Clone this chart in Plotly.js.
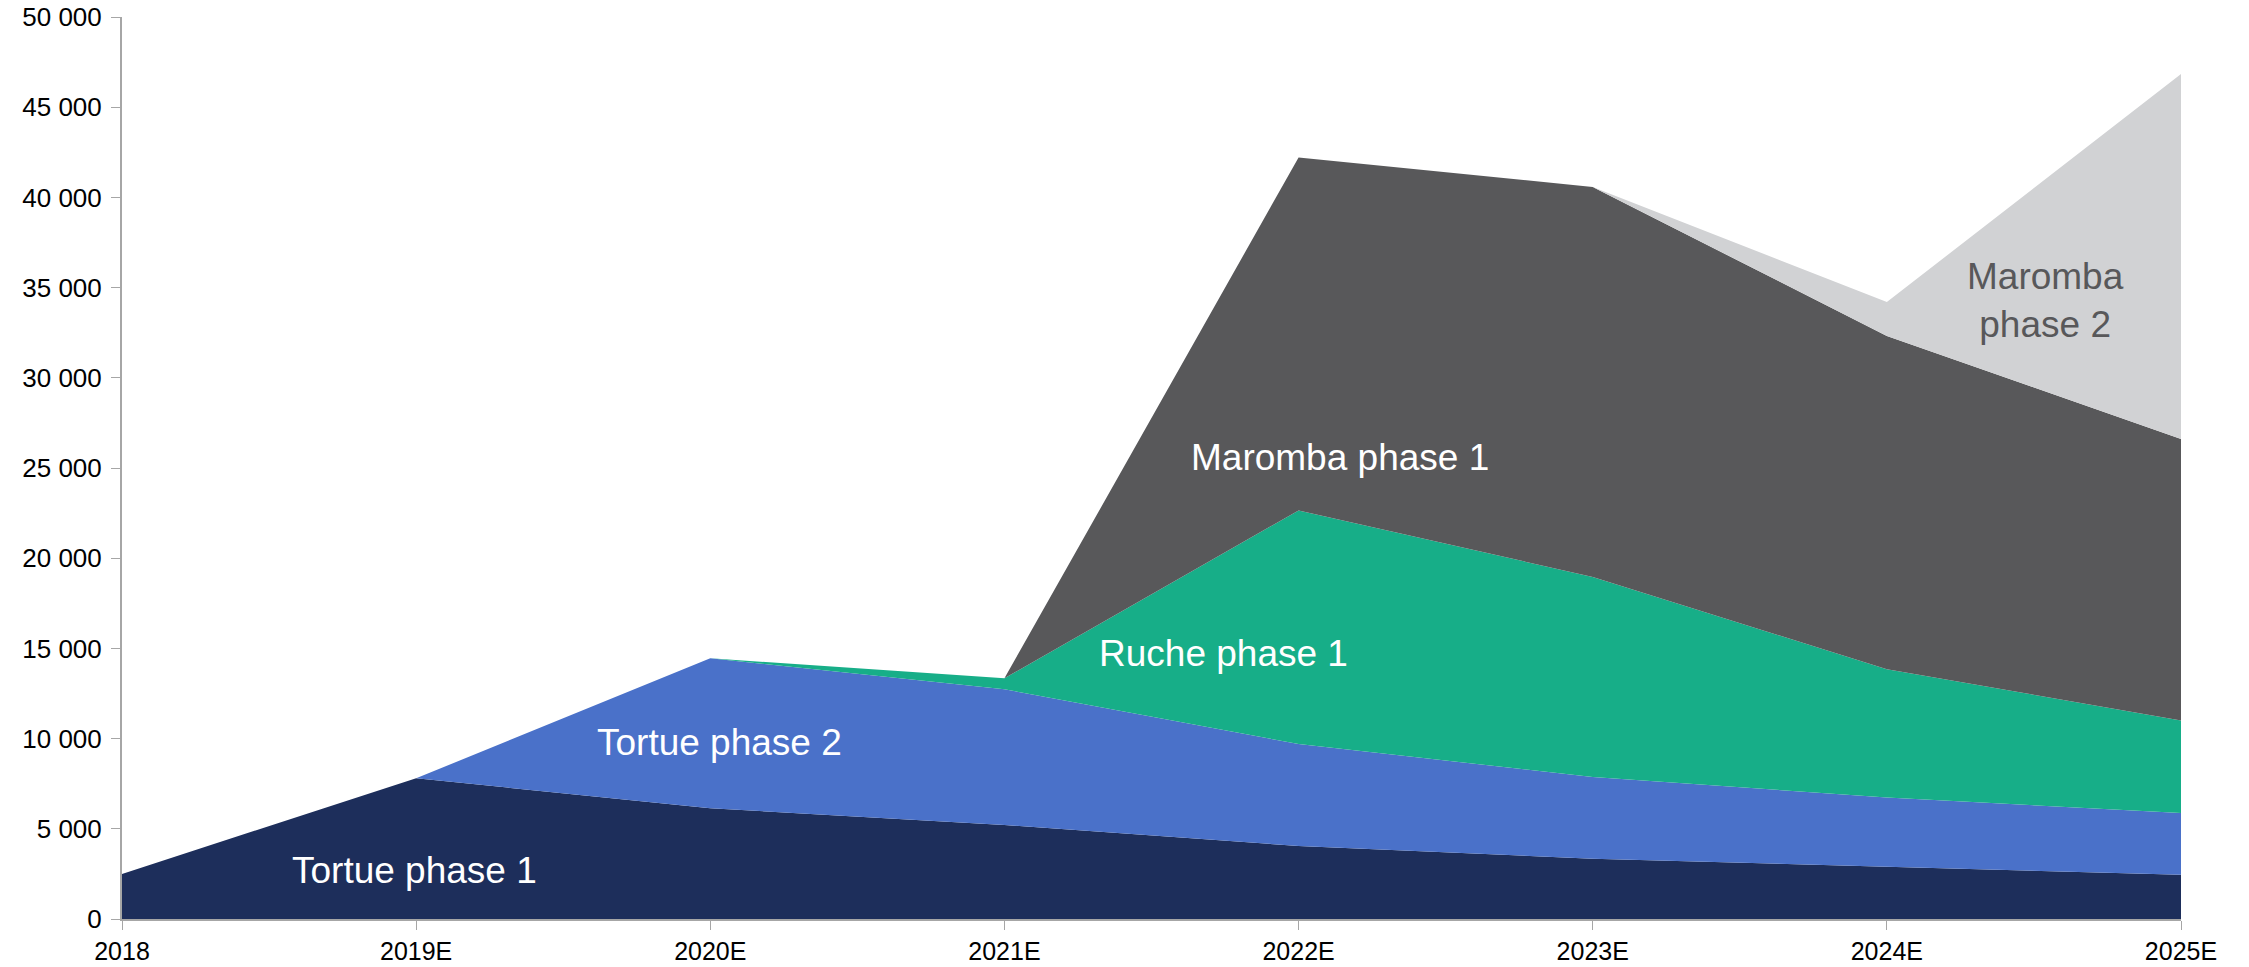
<!DOCTYPE html>
<html>
<head>
<meta charset="utf-8">
<script src="https://cdn.plot.ly/plotly-3.0.1.min.js"></script>
<style>
  html, body { margin: 0; padding: 0; background: #fff; }
  #chart { width: 2249px; height: 967px; }
</style>
</head>
<body>
<div id="chart"></div>
<script>
/* -------------------- DATA -------------------- */

const years = ['2018', '2019E', '2020E', '2021E', '2022E', '2023E', '2024E', '2025E'];

const tortue1  = [2500, 7800, 6140, 5210, 4050, 3340, 2900, 2450];
const tortue2  = [0, 0, 8310, 7520, 5650, 4530, 3830, 3420];
const ruche1   = [0, 0, 0, 610, 12950, 11090, 7120, 5130];
const maromba1 = [0, 0, 0, 0, 19560, 21620, 18470, 15610];
const maromba2 = [0, 0, 0, 0, 0, 0, 1880, 20230];

const seriesNames  = ['Tortue phase 1', 'Tortue phase 2', 'Ruche phase 1', 'Maromba phase 1', 'Maromba phase 2'];
const seriesColors = ['#1D2E5B', '#4A71C9', '#17AE88', '#58585A', '#D1D2D4'];

const yTicks = [0, 5000, 10000, 15000, 20000, 25000, 30000, 35000, 40000, 45000, 50000];

/* -------------------- LABELS -------------------- */

// in-chart labels: x is category index, y in data units
const labels = [
  { text: 'Tortue phase 1', x: 0.995, y: 2700, color: '#FFFFFF' },
  { text: 'Tortue phase 2', x: 2.03, y: 9800, color: '#FFFFFF' },
  { text: 'Ruche phase 1', x: 3.745, y: 14700, color: '#FFFFFF' },
  { text: 'Maromba phase 1', x: 4.14, y: 25600, color: '#FFFFFF' },
  { text: 'Maromba<br>phase 2', x: 6.54, y: 34300, color: '#58585A' }
];

/* -------------------- PLOT -------------------- */

const FONT = 'Liberation Sans, Arial, sans-serif';

const values = [tortue1, tortue2, ruche1, maromba1, maromba2];

const traces = values.map((v, i) => ({
  x: years,
  y: v,
  name: seriesNames[i],
  type: 'scatter',
  mode: 'lines',
  stackgroup: 'one',
  line: { width: 0, color: seriesColors[i] },
  fillcolor: seriesColors[i],
  hoverinfo: 'skip'
}));

const annotations = labels.map(l => ({
  text: l.text,
  x: l.x,
  y: l.y,
  xref: 'x',
  yref: 'y',
  showarrow: false,
  font: { family: FONT, size: 37, color: l.color }
}));

const layout = {
  width: 2249,
  height: 967,
  margin: { l: 122, r: 68, t: 17, b: 48 },
  paper_bgcolor: '#FFFFFF',
  plot_bgcolor: '#FFFFFF',
  showlegend: false,
  separators: '. ',
  font: { family: FONT, size: 25, color: '#000000' },
  xaxis: {
    type: 'category',
    range: [0, 7],
    showgrid: false,
    zeroline: false,
    showline: true,
    linecolor: '#A6A6A6',
    linewidth: 2,
    ticks: 'outside',
    ticklen: 9,
    tickcolor: '#A6A6A6',
    tickwidth: 1,
    tickfont: { family: FONT, size: 25, color: '#000000' }
  },
  yaxis: {
    range: [0, 50000],
    tickvals: yTicks,
    tickformat: ',d',
    showgrid: false,
    zeroline: false,
    showline: true,
    linecolor: '#A6A6A6',
    linewidth: 2,
    ticks: 'outside',
    ticklen: 9,
    tickcolor: '#A6A6A6',
    tickwidth: 1,
    ticklabelstandoff: 4,
    tickfont: { family: FONT, size: 26, color: '#000000' }
  },
  annotations: annotations
};

Plotly.newPlot('chart', traces, layout, { displayModeBar: false, staticPlot: true });
</script>
</body>
</html>
